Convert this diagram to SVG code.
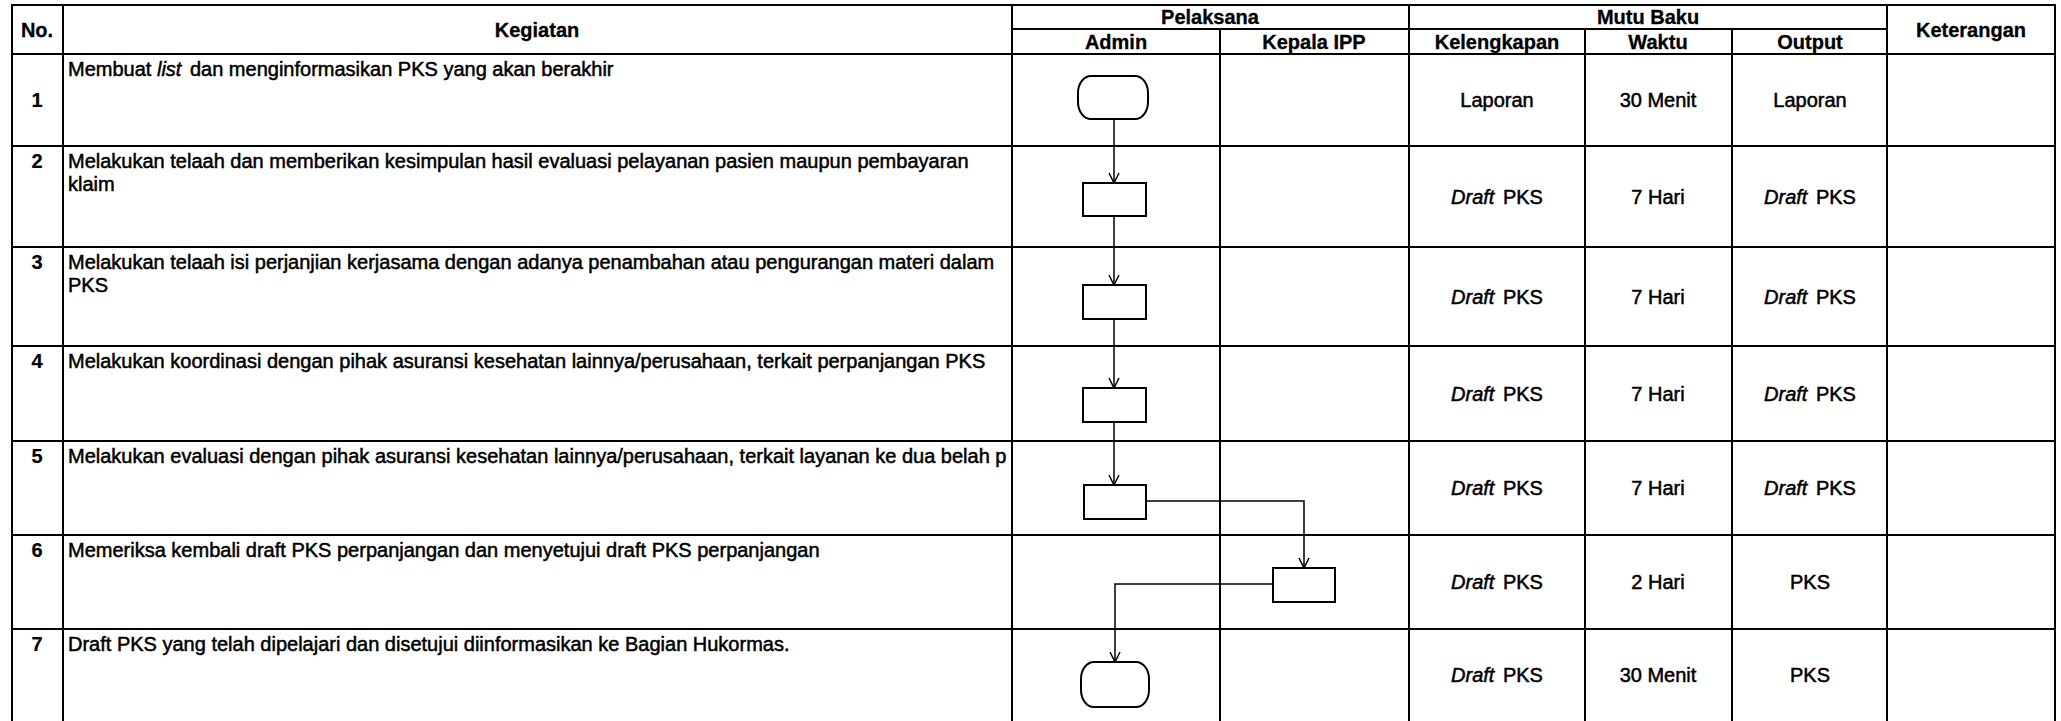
<svg xmlns="http://www.w3.org/2000/svg" width="2061" height="721" viewBox="0 0 2061 721">
<style>
.grid line{stroke:#000;stroke-width:2;stroke-linecap:square}
.t{font-family:"Liberation Sans",Arial,sans-serif;font-size:20px;fill:#000;stroke:#000;stroke-width:0.5}
.h{font-weight:bold;text-anchor:middle;stroke-width:0.3}
.n{font-weight:bold;text-anchor:middle;stroke-width:0.2}
.c{text-anchor:middle}
.i{font-style:italic}
.shape{fill:#fff;stroke:#000;stroke-width:2}
.conn{fill:none;stroke:#000;stroke-width:1.5}
</style>
<defs>
<marker id="arr" viewBox="0 0 10 10" markerWidth="10" markerHeight="10" refX="10" refY="5" orient="auto" markerUnits="userSpaceOnUse" overflow="visible">
<path d="M0,0 L10,5 L0,10" fill="none" stroke="#000" stroke-width="1.5"/>
</marker>
<clipPath id="kegClip"><rect x="63" y="441" width="948" height="94"/></clipPath>
</defs>
<rect width="2061" height="721" fill="#fff"/>
<g id="grid" class="grid">
<line x1="12" y1="5" x2="2055" y2="5"/>
<line x1="1012" y1="29" x2="1887" y2="29"/>
<line x1="12" y1="54" x2="2055" y2="54"/>
<line x1="12" y1="146" x2="2055" y2="146"/>
<line x1="12" y1="247" x2="2055" y2="247"/>
<line x1="12" y1="346" x2="2055" y2="346"/>
<line x1="12" y1="441" x2="2055" y2="441"/>
<line x1="12" y1="535" x2="2055" y2="535"/>
<line x1="12" y1="629" x2="2055" y2="629"/>
<line x1="12" y1="5" x2="12" y2="721"/>
<line x1="63" y1="5" x2="63" y2="721"/>
<line x1="1012" y1="5" x2="1012" y2="721"/>
<line x1="1220" y1="29" x2="1220" y2="721"/>
<line x1="1409" y1="5" x2="1409" y2="721"/>
<line x1="1585" y1="29" x2="1585" y2="721"/>
<line x1="1732" y1="29" x2="1732" y2="721"/>
<line x1="1887" y1="5" x2="1887" y2="721"/>
<line x1="2055" y1="5" x2="2055" y2="721"/>
</g>
<g id="header">
<text class="t h" x="37" y="37">No.</text>
<text class="t h" x="537" y="37">Kegiatan</text>
<text class="t h" x="1210" y="24">Pelaksana</text>
<text class="t h" x="1116" y="49">Admin</text>
<text class="t h" x="1314" y="49">Kepala IPP</text>
<text class="t h" x="1648" y="24">Mutu Baku</text>
<text class="t h" x="1497" y="49">Kelengkapan</text>
<text class="t h" x="1658" y="49">Waktu</text>
<text class="t h" x="1810" y="49">Output</text>
<text class="t h" x="1971" y="37">Keterangan</text>
</g>
<g id="rows">
<text class="t n" x="37" y="107">1</text>
<text class="t" x="68" y="76">Membuat <tspan class="i">list</tspan><tspan dx="3"> dan menginformasikan PKS yang akan berakhir</tspan></text>
<text class="t c" x="1497" y="107">Laporan</text>
<text class="t c" x="1658" y="107">30 Menit</text>
<text class="t c" x="1810" y="107">Laporan</text>

<text class="t n" x="37" y="168">2</text>
<text class="t" x="68" y="168">Melakukan telaah dan memberikan kesimpulan hasil evaluasi pelayanan pasien maupun pembayaran</text>
<text class="t" x="68" y="191">klaim</text>
<text class="t c" x="1497" y="204"><tspan class="i">Draft</tspan><tspan dx="3"> PKS</tspan></text>
<text class="t c" x="1658" y="204">7 Hari</text>
<text class="t c" x="1810" y="204"><tspan class="i">Draft</tspan><tspan dx="3"> PKS</tspan></text>

<text class="t n" x="37" y="269">3</text>
<text class="t" x="68" y="269">Melakukan telaah isi perjanjian kerjasama dengan adanya penambahan atau pengurangan materi dalam</text>
<text class="t" x="68" y="292">PKS</text>
<text class="t c" x="1497" y="304"><tspan class="i">Draft</tspan><tspan dx="3"> PKS</tspan></text>
<text class="t c" x="1658" y="304">7 Hari</text>
<text class="t c" x="1810" y="304"><tspan class="i">Draft</tspan><tspan dx="3"> PKS</tspan></text>

<text class="t n" x="37" y="368">4</text>
<text class="t" x="68" y="368">Melakukan koordinasi dengan pihak asuransi kesehatan lainnya/perusahaan, terkait perpanjangan PKS</text>
<text class="t c" x="1497" y="401"><tspan class="i">Draft</tspan><tspan dx="3"> PKS</tspan></text>
<text class="t c" x="1658" y="401">7 Hari</text>
<text class="t c" x="1810" y="401"><tspan class="i">Draft</tspan><tspan dx="3"> PKS</tspan></text>

<text class="t n" x="37" y="463">5</text>
<text class="t" x="68" y="463" clip-path="url(#kegClip)">Melakukan evaluasi dengan pihak asuransi kesehatan lainnya/perusahaan, terkait layanan ke dua belah p</text>
<text class="t c" x="1497" y="495"><tspan class="i">Draft</tspan><tspan dx="3"> PKS</tspan></text>
<text class="t c" x="1658" y="495">7 Hari</text>
<text class="t c" x="1810" y="495"><tspan class="i">Draft</tspan><tspan dx="3"> PKS</tspan></text>

<text class="t n" x="37" y="557">6</text>
<text class="t" x="68" y="557">Memeriksa kembali draft PKS perpanjangan dan menyetujui draft PKS perpanjangan</text>
<text class="t c" x="1497" y="589"><tspan class="i">Draft</tspan><tspan dx="3"> PKS</tspan></text>
<text class="t c" x="1658" y="589">2 Hari</text>
<text class="t c" x="1810" y="589">PKS</text>

<text class="t n" x="37" y="651">7</text>
<text class="t" x="68" y="651">Draft PKS yang telah dipelajari dan disetujui diinformasikan ke Bagian Hukormas.</text>
<text class="t c" x="1497" y="682"><tspan class="i">Draft</tspan><tspan dx="3"> PKS</tspan></text>
<text class="t c" x="1658" y="682">30 Menit</text>
<text class="t c" x="1810" y="682">PKS</text>
</g>
<g id="connectors" class="conn">
<path d="M1114,119 V183" marker-end="url(#arr)"/>
<path d="M1114,216 V285" marker-end="url(#arr)"/>
<path d="M1114,319 V388" marker-end="url(#arr)"/>
<path d="M1114,422 V485" marker-end="url(#arr)"/>
<path d="M1146,501 H1304 V568" marker-end="url(#arr)"/>
<path d="M1273,584 H1115 V662" marker-end="url(#arr)"/>
</g>
<g id="node1"><rect class="shape" x="1078" y="76" width="70" height="43" rx="13" ry="17"/></g>
<g id="node2"><rect class="shape" x="1083" y="183" width="63" height="33"/></g>
<g id="node3"><rect class="shape" x="1083" y="285" width="63" height="34"/></g>
<g id="node4"><rect class="shape" x="1083" y="388" width="63" height="34"/></g>
<g id="node5"><rect class="shape" x="1084" y="485" width="62" height="34"/></g>
<g id="node6"><rect class="shape" x="1273" y="568" width="62" height="34"/></g>
<g id="node7"><rect class="shape" x="1081" y="662" width="68" height="45" rx="13" ry="17"/></g>
</svg>
